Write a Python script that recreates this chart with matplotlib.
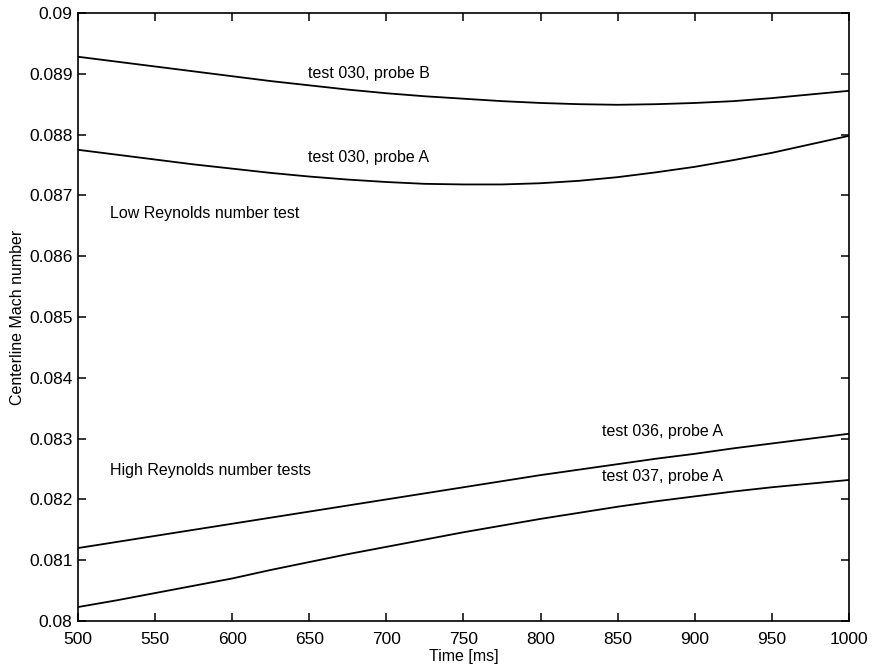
import matplotlib
matplotlib.use("Agg")
import matplotlib.pyplot as plt
from matplotlib.ticker import FuncFormatter, MultipleLocator

plt.rcParams["font.family"] = ["Liberation Sans", "DejaVu Sans"]

time_ms = [500, 525, 550, 575, 600, 625, 650, 675, 700, 725, 750,
           775, 800, 825, 850, 875, 900, 925, 950, 975, 1000]
t030_probe_b = [0.08928, 0.08920, 0.08912, 0.08904, 0.08896, 0.08888, 0.08881, 0.08874, 0.08868, 0.08863, 0.08859,
                0.08855, 0.08852, 0.08850, 0.08849, 0.08850, 0.08852, 0.08855, 0.08860, 0.08866, 0.08872]
t030_probe_a = [0.08775, 0.08767, 0.08759, 0.08751, 0.08744, 0.08737, 0.08731, 0.08726, 0.08722, 0.08719, 0.08718,
                0.08718, 0.08720, 0.08724, 0.08730, 0.08738, 0.08747, 0.08758, 0.08770, 0.08784, 0.08798]
t036_probe_a = [0.08120, 0.08130, 0.08140, 0.08150, 0.08160, 0.08170, 0.08180, 0.08190, 0.08200, 0.08210, 0.08220,
                0.08230, 0.08240, 0.08249, 0.08258, 0.08267, 0.08275, 0.08284, 0.08292, 0.08300, 0.08308]
t037_probe_a = [0.08023, 0.08034, 0.08046, 0.08058, 0.08070, 0.08084, 0.08097, 0.08110, 0.08122, 0.08134, 0.08146,
                0.08157, 0.08168, 0.08178, 0.08188, 0.08197, 0.08205, 0.08213, 0.08220, 0.08226, 0.08232]

fig = plt.figure(figsize=(8.72, 6.69), dpi=100)
ax = fig.add_axes([0.0894, 0.0717, 0.8842, 0.9089])

for series in (t030_probe_b, t030_probe_a, t036_probe_a, t037_probe_a):
    ax.plot(time_ms, series, color="black", lw=1.3)

ax.set_xlim(500, 1000)
ax.set_ylim(0.08, 0.09)
ax.xaxis.set_major_locator(MultipleLocator(50))
ax.yaxis.set_major_locator(MultipleLocator(0.001))
ax.yaxis.set_major_formatter(FuncFormatter(lambda v, p: "%g" % round(v, 4)))
ax.tick_params(direction="in", top=True, right=True, length=6, width=1.1, labelsize=12.5)
ax.tick_params(axis="x", pad=8)
ax.tick_params(axis="y", pad=4)
for s in ax.spines.values():
    s.set_linewidth(1.2)

ax.set_xlabel("Time [ms]", fontsize=11.5, labelpad=1)
ax.set_ylabel("Centerline Mach number", fontsize=11.5, labelpad=3)

txt = dict(fontsize=11.5, va="center", ha="left")
ax.text(649, 0.08901, "test 030, probe B", **txt)
ax.text(649, 0.08762, "test 030, probe A", **txt)
ax.text(521, 0.08671, "Low Reynolds number test", **txt)
ax.text(521, 0.08248, "High Reynolds number tests", **txt)
ax.text(840, 0.08311, "test 036, probe A", **txt)
ax.text(840, 0.08237, "test 037, probe A", **txt)

fig.savefig("out.png", dpi=100)
